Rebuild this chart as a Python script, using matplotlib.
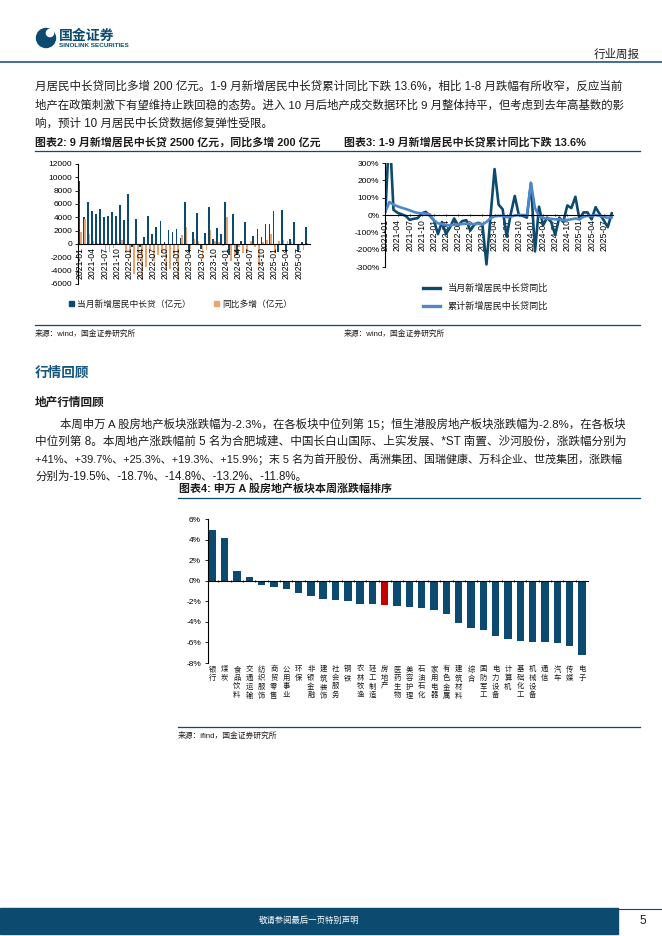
import numpy as np
import matplotlib
matplotlib.use('Agg')
import matplotlib.pyplot as plt
from matplotlib.patches import Rectangle, Circle

plt.rcParams['font.family'] = ['Liberation Sans', 'Noto Sans CJK SC', 'DejaVu Sans']
plt.rcParams['axes.unicode_minus'] = False

# ---------------- data ----------------
# 图表2: monthly new household mid/long-term loans, 2021-01 .. 2025-09 (亿元)
new_loans = [9450, 4050, 6250, 4950, 4500, 5250, 4050, 4200, 4800, 4200, 5850, 3600,
             7450, -450, 3750, -450, 1050, 4200, 1500, 2550, 3450, 250, 2100, 1850,
             2250, 900, 6250, -1150, 1850, 4650, -700, 1600, 5550, 750, 2350, 1500,
             6350, -1650, 4450, -1650, 450, 3350, -200, 1200, 2300, 1000, 2950, 2950,
             4950, -1150, 5100, -1150, 700, 3350, -1150, 300, 2500]
loans_yoy = [1800, 3700, 1500, 500, 100, 100, -1400, -1200, -650, 300, 600, -1100,
             -2000, -4500, -2500, -5400, -3450, -1050, -2550, -1650, -1350, -3950, -3750, -1750,
             -5200, 1350, 2500, -700, 800, 450, -2200, -950, 2100, 500, 250, -350,
             4100, -2550, -1800, -500, -1400, -1300, 500, -400, -3250, 250, 600, 1450,
             -1400, 500, 650, 500, 250, 0, -950, -900, 200]

# 图表3: YoY of monthly / cumulative new loans (%)
monthly_yoy = [20, 500, 30, 13, 4, -5, -28, -22, -18, 10, 18, -5,
               -30, -110, -40, -110, -70, -20, -60, -35, -30, -90, -55, -45,
               -55, -285, -10, 265, 60, 33, -125, 5, 110, 0, -5, -15,
               185, -210, 48, -60, -15, -40, -115, -15, -40, 55, 40, 105,
               -25, 15, 15, -25, 45, 5, -30, -70, 10]
cum_yoy = [20, 75, 60, 50, 42, 35, 27, 18, 12, 10, 8, 3,
           -30, -48, -52, -58, -60, -55, -55, -52, -50, -52, -52, -50,
           -55, -40, -18, -8, -5, -5, -12, -10, -3, 0, 0, -2,
           185, 40, -5, -18, -20, -22, -25, -25, -30, -28, -25, -20,
           -25, -10, -5, -5, 0, -5, -10, -16, -13.6]

month_ticks = ['2021-01', '2021-04', '2021-07', '2021-10', '2022-01', '2022-04', '2022-07',
               '2022-10', '2023-01', '2023-04', '2023-07', '2023-10', '2024-01', '2024-04',
               '2024-07', '2024-10', '2025-01', '2025-04', '2025-07']

# 图表4: 申万一级行业本周涨跌幅 (%)
sectors = ['银行', '煤炭', '食品饮料', '交通运输', '纺织服饰', '商贸零售', '公用事业', '环保',
           '非银金融', '建筑装饰', '社会服务', '钢铁', '农林牧渔', '轻工制造', '房地产',
           '医药生物', '美容护理', '石油石化', '家用电器', '有色金属', '建筑材料', '综合',
           '国防军工', '电力设备', '计算机', '基础化工', '机械设备', '通信', '汽车', '传媒', '电子']
sector_chg = [4.95, 4.2, 0.95, 0.35, -0.4, -0.6, -0.8, -1.15, -1.45, -1.75, -1.85, -2.0,
              -2.3, -2.3, -2.35, -2.5, -2.6, -2.7, -2.8, -3.2, -4.15, -4.6, -4.8, -5.4,
              -5.7, -5.9, -5.95, -6.0, -6.1, -6.35, -7.25]
highlight = '房地产'

para1 = ['月居民中长贷同比多增 200 亿元。1-9 月新增居民中长贷累计同比下跌 13.6%，相比 1-8 月跌幅有所收窄，反应当前',
         '地产在政策刺激下有望维持止跌回稳的态势。进入 10 月后地产成交数据环比 9 月整体持平，但考虑到去年高基数的影',
         '响，预计 10 月居民中长贷数据修复弹性受限。']
para2 = ['本周申万 A 股房地产板块涨跌幅为-2.3%，在各板块中位列第 15；恒生港股房地产板块涨跌幅为-2.8%，在各板块',
         '中位列第 8。本周地产涨跌幅前 5 名为合肥城建、中国长白山国际、上实发展、*ST 南置、沙河股份，涨跌幅分别为',
         '+41%、+39.7%、+25.3%、+19.3%、+15.9%；末 5 名为首开股份、禹洲集团、国瑞健康、万科企业、世茂集团，涨跌幅',
         '分别为-19.5%、-18.7%、-14.8%、-13.2%、-11.8%。']

# ---------------- page ----------------
W, H = 662, 936
NAVY = '#0c4a70'
ORANGE = '#eaa472'
LIGHT = '#4f88c8'
RED = '#c40000'
TXT = '#1c1c1c'

fig = plt.figure(figsize=(W / 100, H / 100), dpi=100)
page = fig.add_axes([0, 0, 1, 1])
page.set_xlim(0, W)
page.set_ylim(H, 0)
page.axis('off')
renderer = fig.canvas.get_renderer()


def box(l, t, r, b):
    return [l / W, 1 - b / H, (r - l) / W, (b - t) / H]


def body_line(x0, y, s, full):
    # full lines are stretched/shrunk to the right margin like the justified original
    t = page.text(x0, y, s, fontsize=8.3, color=TXT, va='center')
    if full:
        w = t.get_window_extent(renderer).width
        t.set_fontsize(8.3 * (624 - x0) / w)


# header
page.add_patch(Circle((46, 38), 9.5, color=NAVY))
page.add_patch(Circle((50, 33), 3.6, color='white'))
page.text(59, 36, '国金证券', fontsize=10, fontweight='bold', color=NAVY, va='center')
page.text(59, 45.5, 'SINOLINK SECURITIES', fontsize=4.6, fontweight='bold', color=NAVY, va='center')
page.text(640, 55, '行业周报', fontsize=8.3, color=TXT, va='center', ha='right')
page.plot([0, W], [62, 62], color=NAVY, lw=1.1)

for k, line in enumerate(para1):
    body_line(35, 87 + k * 18.5, line, k < len(para1) - 1)

page.text(35, 142, '图表2: 9 月新增居民中长贷 2500 亿元，同比多增 200 亿元', fontsize=7.9,
          fontweight='bold', color=TXT, va='center')
page.text(344, 142, '图表3: 1-9 月新增居民中长贷累计同比下跌 13.6%', fontsize=7.9,
          fontweight='bold', color=TXT, va='center')
page.plot([35, 640], [150.5, 150.5], color=NAVY, lw=0.9)

page.plot([35, 640], [325, 325], color=NAVY, lw=0.9)
page.text(35, 333.5, '来源：wind，国金证券研究所', fontsize=5.6, color=TXT, va='center')
page.text(344, 333.5, '来源：wind，国金证券研究所', fontsize=5.6, color=TXT, va='center')

page.text(35, 373, '行情回顾', fontsize=9.8, fontweight='bold', color='#17557f', va='center')
page.text(35, 403, '地产行情回顾', fontsize=8.4, fontweight='bold', color=TXT, va='center')
for k, line in enumerate(para2):
    body_line(35 if k else 60, 423.5 + k * 17.7, line, k < len(para2) - 1)

page.text(179, 488.5, '图表4: 申万 A 股房地产板块本周涨跌幅排序', fontsize=7.9,
          fontweight='bold', color=TXT, va='center')
page.plot([178, 640], [498, 498], color=NAVY, lw=0.9)
page.plot([178, 640], [727, 727], color=NAVY, lw=0.9)
page.text(178, 736, '来源：ifind，国金证券研究所', fontsize=5.6, color=TXT, va='center')

# footer
page.add_patch(Rectangle((0, 908), 618, 26, color=NAVY))
page.plot([618, W], [908.5, 908.5], color=NAVY, lw=0.8)
page.text(309, 921, '敬请参阅最后一页特别声明', fontsize=6, color='white', ha='center', va='center')
page.text(643, 921, '5', fontsize=8.5, color=TXT, ha='center', va='center')

# ---------------- 图表2 ----------------
x = np.arange(len(new_loans))
ax2 = fig.add_axes(box(78, 164, 310, 284))
ax2.spines[['top', 'right']].set_visible(False)
ax2.spines['bottom'].set_position(('data', 0))
ax2.bar(x - 0.21, new_loans, width=0.45, color=NAVY, linewidth=0)
ax2.bar(x + 0.21, loans_yoy, width=0.42, color=ORANGE, linewidth=0)
ax2.set_xlim(-0.6, 56.8)
ax2.set_ylim(-6000, 12000)
yt = list(range(-6000, 12001, 2000))
ax2.set_yticks(yt, [str(v) for v in yt], fontsize=6)
ax2.set_xticks(np.arange(0, len(new_loans), 3), month_ticks, rotation=90, fontsize=6.2)
ax2.tick_params(axis='y', length=2, width=0.6, pad=2)
ax2.tick_params(axis='x', length=0, pad=2)
for s in ax2.spines.values():
    s.set_linewidth(0.8)
ax2.patch.set_alpha(0)

page.add_patch(Rectangle((69, 301), 5, 5, color=NAVY))
page.text(77, 304, '当月新增居民中长贷（亿元）', fontsize=6.3, color=TXT, va='center')
page.add_patch(Rectangle((214, 301), 5, 5, color=ORANGE))
page.text(222, 304, '同比多增（亿元）', fontsize=6.3, color=TXT, va='center')

# ---------------- 图表3 ----------------
ax3 = fig.add_axes(box(385, 163, 613, 267))
ax3.spines[['top', 'right']].set_visible(False)
ax3.spines['bottom'].set_position(('data', 0))
ax3.plot(x, monthly_yoy, color=NAVY, lw=1.9)
ax3.plot(x, cum_yoy, color=LIGHT, lw=1.9)
ax3.set_xlim(-0.1, 56.3)
ax3.set_ylim(-300, 300)
yt3 = list(range(-300, 301, 100))
ax3.set_yticks(yt3, [f'{v}%' for v in yt3], fontsize=6)
ax3.set_xticks(np.arange(0, len(monthly_yoy), 3), month_ticks, rotation=90, fontsize=6.2)
ax3.tick_params(axis='y', length=2, width=0.6, pad=2)
ax3.tick_params(axis='x', length=2, width=0.6, direction='inout', pad=2)
for s in ax3.spines.values():
    s.set_linewidth(0.8)
ax3.patch.set_alpha(0)

page.plot([423, 440], [288, 288], color=NAVY, lw=2.4)
page.text(448, 288, '当月新增居民中长贷同比', fontsize=6.6, color=TXT, va='center')
page.plot([423, 440], [306, 306], color=LIGHT, lw=2.4)
page.text(448, 306, '累计新增居民中长贷同比', fontsize=6.6, color=TXT, va='center')

# ---------------- 图表4 ----------------
xs = np.arange(len(sectors))
ax4 = fig.add_axes(box(208, 519, 588, 663))
ax4.spines[['top', 'right']].set_visible(False)
ax4.spines['bottom'].set_position(('data', 0))
colors = [RED if s == highlight else NAVY for s in sectors]
ax4.bar(xs, sector_chg, width=0.6, color=colors, linewidth=0)
ax4.set_xlim(-0.35, 30.5)
ax4.set_ylim(-8, 6)
yt4 = list(range(-8, 7, 2))
ax4.set_yticks(yt4, [f'{v}%' for v in yt4], fontsize=6)
ax4.set_xticks(xs[:-1] + 0.5, [''] * (len(xs) - 1))
ax4.tick_params(axis='y', length=2, width=0.6, pad=3)
ax4.tick_params(axis='x', length=2, width=0.6, direction='inout')
for s in ax4.spines.values():
    s.set_linewidth(0.8)
for i, name in enumerate(sectors):
    ax4.text(i, -8.3, '\n'.join(name), ha='center', va='top', fontsize=5.3,
             linespacing=1.3, color=TXT)
ax4.patch.set_alpha(0)

fig.savefig('out.png', dpi=100)
